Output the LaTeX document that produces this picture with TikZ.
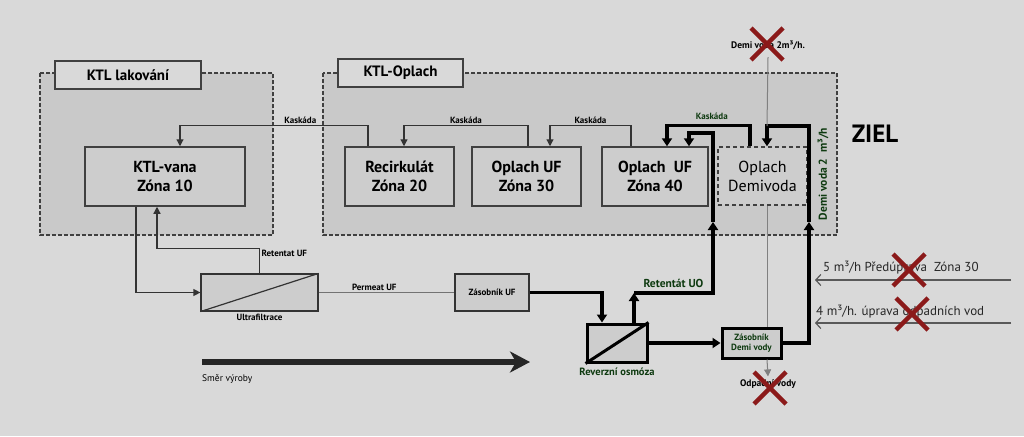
\documentclass[tikz,border=0pt]{standalone}
\usepackage{fontspec}
\setmainfont{PT Sans}
\usepackage{xcolor}
\usetikzlibrary{arrows.meta}

\definecolor{bggray}{HTML}{D9D9D9}
\definecolor{regiongray}{HTML}{C9C9C9}
\definecolor{boxgray}{HTML}{CDCDCD}
\definecolor{darkgreen}{HTML}{0E3A10}
\definecolor{crossred}{HTML}{8B1A1A}

\tikzset{
  region/.style={draw=black!75, dash pattern=on 4pt off 2pt, fill=regiongray, line width=1.2pt},
  title/.style={draw=black!75, fill=bggray, line width=1.2pt, minimum height=28pt, inner sep=0pt,
    font=\fontsize{15}{17}\selectfont\bfseries},
  tank/.style={draw=black!75, fill=boxgray, line width=1.5pt, align=center, inner sep=0pt,
    font=\fontsize{16}{19}\selectfont\bfseries},
  filter/.style={draw=black!80, fill=boxgray, line width=1.2pt, inner sep=0pt},
  flow/.style={draw=black!80, line width=1.2pt, -{Triangle[length=7pt,width=7pt]}},
  bigflow/.style={draw=black, line width=3.5pt, -{Triangle[length=8pt,width=10pt]}},
  feed/.style={draw=black!65, line width=1.2pt, -{Straight Barb[length=5pt,width=11pt]}},
  lbl/.style={text=black, font=\fontsize{9}{11}\selectfont\bfseries, inner sep=1.5pt},
  glbl/.style={lbl, text=darkgreen},
  cross/.style={crossred, line width=4.5pt}
}

\begin{document}
\begin{tikzpicture}[x=1pt,y=-1pt]
% BACKGROUND
  \fill[bggray] (0,0) rectangle (1024,436);
  \useasboundingbox (0,0) rectangle (1024,436);

% REGIONS
  \draw[region] (40,73) rectangle (273,235);
  \draw[region] (323,73) rectangle (837,235);
  \node[title, minimum width=146pt] (lakTitle) at (128,75) {KTL lakování};
  \node[title, minimum width=125pt] (oplTitle) at (400.5,73) {KTL-Oplach};

% TANKS
  \node[tank, minimum width=160pt, minimum height=59pt] (vana) at (165,176.5) {KTL-vana\\Zóna 10};
  \node[tank, minimum width=109pt, minimum height=59pt] (recirk) at (399.5,176.5) {Recirkulát\\Zóna 20};
  \node[tank, minimum width=109pt, minimum height=59pt] (zona30) at (526.5,176.5) {Oplach UF\\Zóna 30};
  \node[tank, minimum width=106pt, minimum height=59pt] (zona40) at (655,176.5) {Oplach~~UF\\Zóna 40};
  \node[tank, dashed, dash pattern=on 4pt off 3pt, minimum width=89pt, minimum height=58pt,
    font=\fontsize{16}{19}\selectfont] (demivoda) at (762.5,176) {Oplach\\Demivoda};

% FILTERS AND STORAGE
  \node[filter, minimum width=117pt, minimum height=37pt] (uf) at (259.5,292.5) {};
  \draw[black!80, line width=1.2pt] (uf.south west) -- (uf.north east);
  \node[lbl, below=1pt] (ufLbl) at (uf.south) {Ultrafiltrace};
  \node[filter, minimum width=74pt, minimum height=37pt, font=\fontsize{9}{11}\selectfont\bfseries] (zasUF) at (492,292.5) {Zásobník UF};
  \node[filter, draw=black, line width=3pt, minimum width=60pt, minimum height=38pt] (ro) at (617,343) {};
  \draw[black, line width=3pt] (ro.south west) -- (ro.north east);
  \node[glbl, font=\fontsize{10.5}{12}\selectfont\bfseries, below=3pt] (roLbl) at (ro.south) {Reverzní osmóza};
  \node[filter, draw=black, line width=3pt, minimum width=59pt, minimum height=30pt, align=center,
    text=darkgreen, font=\fontsize{9}{10.5}\selectfont\bfseries] (zasDemi) at (751.5,343) {Zásobník\\Demi vody};

% KASKADA
  \draw[flow] ([xshift=-31.5pt]recirk.north) -- ++(0,-21) -| node[lbl, above, pos=0.18] {Kaskáda} ([xshift=15pt]vana.north);
  \draw[flow] ([xshift=1.5pt]zona30.north) -- ++(0,-21) -| node[lbl, above, pos=0.25] {Kaskáda} ([xshift=4.5pt]recirk.north);
  \draw[flow] ([xshift=-24pt]zona40.north) -- ++(0,-21) -| node[lbl, above, pos=0.25] {Kaskáda} ([xshift=23.5pt]zona30.north);
  \draw[bigflow] ([xshift=-12.5pt]demivoda.north) -- ++(0,-21) -| node[glbl, above=2pt, pos=0.23] {Kaskáda} ([xshift=12pt]zona40.north);

% ULTRAFILTRACE
  \draw[flow] ([xshift=-29pt]vana.south) |- (uf.west);
  \draw[flow] (uf.north) -- ++(0,-25) node[lbl, below right] {Retentat UF} -| ([xshift=-8pt]vana.south);
  \draw[black!55, line width=1pt] (uf.east) -- node[lbl, above, pos=0.41] {Permeat UF} (zasUF.west);

% REVERZNI OSMOZA
  \coordinate (retUO) at (634,293);
  \coordinate (upA) at (713,222);
  \coordinate (upB) at (809,222);
  \coordinate (demiIn) at (767,126);
  \draw[bigflow] (zasUF.east) -| ([xshift=-15pt]ro.north);
  \draw[bigflow] ([xshift=17pt]ro.north) -- (retUO);
  \draw[bigflow] (retUO) -- node[glbl, font=\fontsize{11.5}{13}\selectfont\bfseries, above=2pt] {Retentát UO} (713,293) -- (upA);
  \draw[bigflow] (upA) |- ++(0,-89) -| ([xshift=34pt]zona40.north);
  \draw[bigflow] (ro.east) -- (zasDemi.west);
  \draw[bigflow] (zasDemi.east) -| (upB);
  \draw[bigflow] (upB) |- (demiIn) -- ([xshift=4.5pt]demivoda.north);

% DEMI VODA
  \node[lbl, font=\fontsize{9.5}{11}\selectfont\bfseries] (demiTop) at (768,45) {Demi voda 2m³/h.};
  \node[lbl, font=\fontsize{9.5}{11}\selectfont\bfseries, inner sep=3pt] (odpad) at (768,384) {Odpadní vody};
  \draw[black!50, line width=1pt] ([yshift=-6pt]demiTop.south) -- (demiIn);
  \draw[black!50, line width=1pt] ([xshift=4.5pt]demivoda.south) -- ([xshift=15.5pt]zasDemi.north);
  \draw[black!50, line width=1pt, -{Triangle[length=7pt,width=7pt]}] ([xshift=15.5pt]zasDemi.south) -- (odpad.north);
  \node[text=darkgreen, rotate=90, font=\fontsize{11.5}{13}\selectfont\bfseries] (demiRot) at (823,174) {Demi voda 2~~m³/h};
  \node[font=\fontsize{25}{29}\selectfont\bfseries] (ziel) at (875,134) {ZIEL};

% FEEDS
  \coordinate (feedA) at (1011,280);
  \coordinate (feedAend) at (815,280);
  \coordinate (feedB) at (1011,323);
  \coordinate (feedBend) at (815,323);
  \draw[feed] (feedA) -- (feedAend);
  \draw[feed] (feedB) -- (feedBend);
  \node[anchor=west, text=black!85, font=\fontsize{13}{15}\selectfont, inner sep=0pt] (feedALbl) at (823,268) {5 m³/h Předúprava~~Zóna 30};
  \node[anchor=west, text=black!85, font=\fontsize{13}{15}\selectfont, inner sep=0pt] (feedBLbl) at (816,312) {4 m³/h. úprava odpadních vod};

% CROSSES
  \foreach \cx/\cy in {767/44, 909/270, 912/314, 770/388}
    \draw[cross] (\cx-16,\cy-16) -- (\cx+16,\cy+16) (\cx-16,\cy+16) -- (\cx+16,\cy-16);

% DIRECTION
  \coordinate (dirStart) at (202,362);
  \coordinate (dirEnd) at (530,362);
  \draw[black!85, line width=6.5pt, -{Stealth[length=20pt,width=21pt,inset=6pt]}] (dirStart) -- (dirEnd);
  \node[anchor=west, font=\fontsize{9.5}{11}\selectfont, inner sep=0pt] (dirLbl) at (202,379) {Směr výroby};

\end{tikzpicture}
\end{document}
